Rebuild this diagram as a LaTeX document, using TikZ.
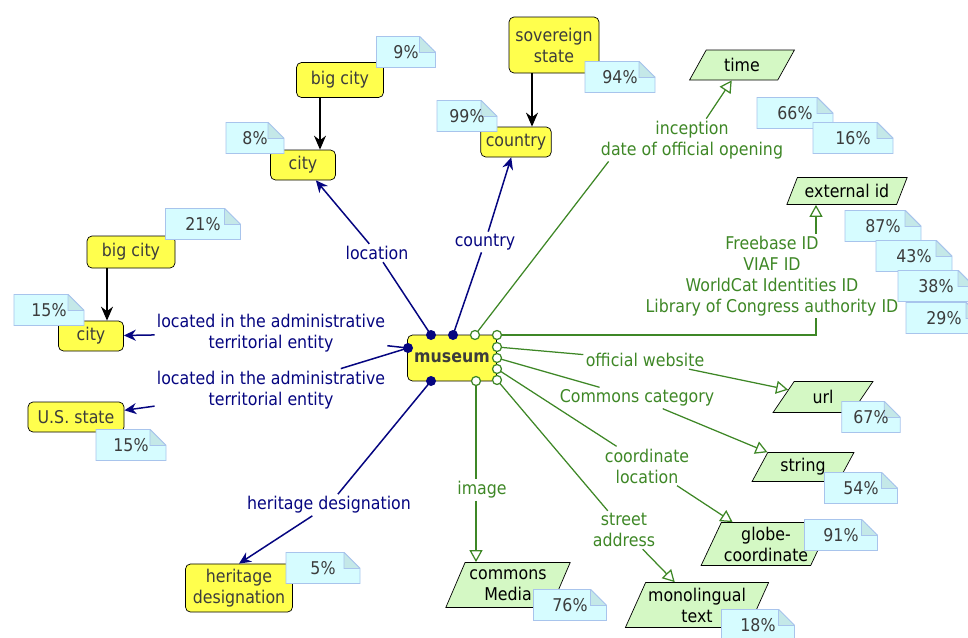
\documentclass[tikz,border=0pt]{standalone}
\usepackage{fontspec}
\setmainfont{DejaVu Sans}[FakeStretch=0.9]
\usetikzlibrary{arrows.meta, shapes.geometric, shapes.misc}
\definecolor{conceptfill}{RGB}{255,255,77}
\definecolor{conceptgray}{RGB}{60,60,60}
\definecolor{valuefill}{RGB}{212,248,196}
\definecolor{notefill}{RGB}{214,252,255}
\definecolor{noteline}{RGB}{168,196,236}
\definecolor{notefold}{RGB}{196,232,232}
\definecolor{navylink}{RGB}{5,5,128}
\definecolor{greenlink}{RGB}{62,135,38}
\begin{document}
\begin{tikzpicture}[x=0.2mm, y=-0.2mm, font=\fontsize{10}{12}\selectfont]
    \tikzstyle{concept_style} = [draw=black, fill=conceptfill, rounded corners=1mm, text=conceptgray, align=center, minimum height=6mm, inner sep=1mm]
    \tikzstyle{value_style} = [draw=black, fill=valuefill, trapezium, trapezium left angle=63, trapezium right angle=117, trapezium stretches=true, align=center, minimum height=6mm, inner sep=0.5mm]
    \tikzstyle{note_style} = [draw=noteline, fill=notefill, text=conceptgray, chamfered rectangle, chamfered rectangle corners=north east, chamfered rectangle xsep=3.2mm, minimum width=14.6mm, minimum height=6mm, inner sep=0.5mm,
        path picture={\filldraw[draw=noteline, fill=notefold] ([xshift=-3.2mm]path picture bounding box.north east) -- ([shift={(-3.2mm,-3.2mm)}]path picture bounding box.north east) -- ([yshift=-3.2mm]path picture bounding box.north east) -- cycle;}]
    \tikzstyle{navy_label} = [text=navylink, align=center, inner sep=0.4mm]
    \tikzstyle{green_label} = [text=greenlink, align=center, inner sep=0.4mm]
    \tikzstyle{black_arrow} = [-{Stealth[length=2.8mm, width=2.4mm]}, black, line width=0.3mm]
    \tikzstyle{navy_arrow} = [-{Stealth[length=2.4mm, width=2.2mm]}, navylink, line width=0.3mm]
    \tikzstyle{green_line} = [greenlink, line width=0.25mm]
    \tikzstyle{green_arrow} = [-{Triangle[open, length=2.4mm, width=2.6mm]}, greenlink, line width=0.25mm]

    \useasboundingbox (0,0) rectangle (968,637);
    \clip (0,0) rectangle (968,637);

    \node[concept_style, font=\fontsize{10}{12}\selectfont\bfseries, minimum width=17.8mm, minimum height=9.2mm] (nMuseum) at (452,358) {museum};
    \node[concept_style, minimum width=13mm] (nCityA) at (303,165) {city};
    \node[concept_style, minimum width=17.4mm, minimum height=7mm] (nBigCityA) at (340,80) {big city};
    \node[concept_style, minimum width=18mm, minimum height=11.2mm] (nSovereign) at (554,45) {sovereign\\state};
    \node[concept_style, minimum width=12.8mm] (nCountry) at (516,142) {country};
    \node[concept_style, minimum width=17.6mm, minimum height=6.4mm] (nBigCityB) at (131,252) {big city};
    \node[concept_style, minimum width=13mm] (nCityB) at (91,336) {city};
    \node[concept_style, minimum width=19.2mm] (nState) at (76,417) {U.S. state};
    \node[concept_style, minimum width=21.4mm, minimum height=9.2mm] (nHeritage) at (239,588) {heritage\\designation};

    \node[value_style, minimum width=21mm] (nTime) at (742,65) {time};
    \node[value_style, minimum width=24.2mm, minimum height=5.4mm] (nExtId) at (847,191) {external id};
    \node[value_style, minimum width=20mm, minimum height=6.2mm] (nUrl) at (823,397) {url};
    \node[value_style, minimum width=20.4mm, minimum height=5.8mm] (nString) at (803,467) {string};
    \node[value_style, minimum width=22.2mm, minimum height=8.6mm] (nGlobe) at (766,544) {globe-\\coordinate};
    \node[value_style, minimum width=25mm, minimum height=9mm] (nMedia) at (508,585) {commons\\Media};
    \node[value_style, minimum width=25.2mm, minimum height=9mm] (nMono) at (697,605) {monolingual\\text};

    \node[navy_label] (lLocation) at (377,253) {location};
    \node[navy_label] (lCountry) at (485,242) {country};
    \node[navy_label] (lAdminA) at (271,333) {located in the administrative\\territorial entity};
    \node[navy_label] (lAdminB) at (271,390) {located in the administrative\\territorial entity};
    \node[navy_label] (lHeritage) at (329,505) {heritage designation};
    \node[green_label] (lInception) at (692,140) {inception\\date of official opening};
    \node[green_label] (lIds) at (772,276) {Freebase ID\\VIAF ID\\WorldCat Identities ID\\Library of Congress authority ID};
    \node[green_label] (lWebsite) at (645,360) {official website};
    \node[green_label] (lCommons) at (637,398) {Commons category};
    \node[green_label] (lCoord) at (647,466) {coordinate\\location};
    \node[green_label] (lStreet) at (624,530) {street\\address};
    \node[green_label] (lImage) at (482,490) {image};

    \coordinate (pLoc) at (431,335);
    \coordinate (pCtry) at (453,335);
    \coordinate (pAdm) at (408,348);
    \coordinate (pHer) at (431,381);
    \coordinate (pInc) at (475,335);
    \coordinate (pExt) at (497,335);
    \coordinate (pWeb) at (497,347);
    \coordinate (pCom) at (497,358);
    \coordinate (pCoord) at (497,369);
    \coordinate (pStreet) at (497,380);
    \coordinate (pImg) at (476,381);
    \coordinate (cBend) at (816,300);
    \coordinate (cA) at (320,0);
    \coordinate (cB) at (107,0);
    \coordinate (cC) at (532,0);

    \draw[black_arrow] (nBigCityA.south -| cA) -- (nCityA.north -| cA);
    \draw[black_arrow] (nBigCityB.south -| cB) -- (nCityB.north -| cB);
    \draw[black_arrow] (nSovereign.south -| cC) -- (nCountry.north -| cC);

    \draw[navy_arrow] (pLoc) -- (lLocation) -- (nCityA);
    \draw[navy_arrow] (pCtry) -- (lCountry) -- (nCountry);
    \draw[navy_arrow] (pAdm) -- (lAdminA) -- (nCityB);
    \draw[navy_arrow] (pAdm) -- (lAdminB) -- (nState);
    \draw[navy_arrow] (pHer) -- (lHeritage) -- (nHeritage.north);

    \draw[green_line] (pInc) -- ([xshift=2mm]lInception.south west);
    \draw[green_arrow] (lInception) -- (nTime);
    \draw[green_line] (pExt) -- (pExt -| cBend) -- (cBend |- lIds.south);
    \draw[green_arrow] (cBend |- lIds.north) -- (cBend |- nExtId.south);
    \draw[green_arrow] (pWeb) -- (lWebsite) -- (nUrl);
    \draw[green_arrow] (pCom) -- (lCommons) -- (nString);
    \draw[green_arrow] (pCoord) -- (lCoord) -- (nGlobe);
    \draw[green_arrow] (pStreet) -- (lStreet) -- (nMono);
    \draw[green_line] (pImg) -- (pImg |- lImage.north);
    \draw[green_arrow] (pImg |- lImage.south) -- (pImg |- nMedia.north);

    \fill[navylink] (pLoc) circle (1mm);
    \fill[navylink] (pCtry) circle (1mm);
    \fill[navylink] (pAdm) circle (1mm);
    \fill[navylink] (pHer) circle (1mm);
    \draw[green_line, fill=white] (pInc) circle (0.9mm);
    \draw[green_line, fill=white] (pExt) circle (0.9mm);
    \draw[green_line, fill=white] (pWeb) circle (0.9mm);
    \draw[green_line, fill=white] (pCom) circle (0.9mm);
    \draw[green_line, fill=white] (pCoord) circle (0.9mm);
    \draw[green_line, fill=white] (pStreet) circle (0.9mm);
    \draw[green_line, fill=white] (pImg) circle (0.9mm);

    \node[note_style, minimum width=11.8mm] (nP9) at (406,52) {9\%};
    \node[note_style, minimum width=11.6mm] (nP8) at (255,138) {8\%};
    \node[note_style, minimum width=14mm] (nP94) at (620,77) {94\%};
    \node[note_style, minimum width=12mm] (nP99) at (467,116) {99\%};
    \node[note_style, minimum width=15.2mm] (nP66) at (795,113) {66\%};
    \node[note_style, minimum width=16mm] (nP16) at (853,138) {16\%};
    \node[note_style, minimum width=15.2mm] (nP87) at (883,226) {87\%};
    \node[note_style, minimum width=15.2mm] (nP43) at (914,256) {43\%};
    \node[note_style, minimum width=15.2mm] (nP38) at (936,286) {38\%};
    \node[note_style, minimum width=15.2mm] (nP29) at (944,318) {29\%};
    \node[note_style, minimum width=15mm] (nP21) at (203,224) {21\%};
    \node[note_style, minimum width=14mm] (nP15a) at (49,310) {15\%};
    \node[note_style, minimum width=14mm] (nP15b) at (131,445) {15\%};
    \node[note_style, minimum width=14.8mm] (nP5) at (323,568) {5\%};
    \node[note_style] (nP76) at (570,605) {76\%};
    \node[note_style] (nP18) at (758,625) {18\%};
    \node[note_style] (nP91) at (841,535) {91\%};
    \node[note_style] (nP54) at (861,488) {54\%};
    \node[note_style, minimum width=10.6mm] (nP67) at (871,417) {67\%};
\end{tikzpicture}
\end{document}
